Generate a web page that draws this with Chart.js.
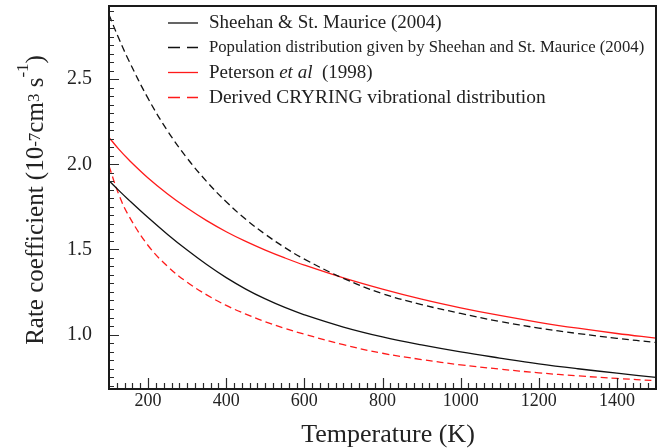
<!DOCTYPE html>
<html>
<head>
<meta charset="utf-8">
<script src="https://cdn.jsdelivr.net/npm/chart.js@4.4.1/dist/chart.umd.min.js"></script>
<style>
  html, body { margin: 0; padding: 0; background: #ffffff; }
  #wrap { width: 663px; height: 448px; position: relative; }
</style>
</head>
<body>
<div id="wrap"><canvas id="chart" width="663" height="448"></canvas></div>
<script>
// Temperatures (K) at which the rate coefficients are tabulated
const temperatures = [100, 125, 150, 200, 250, 300, 350, 400, 450, 500, 550, 600, 700, 800, 900, 1000, 1100, 1200, 1300, 1400, 1500];

// Rate coefficients in units of 1e-7 cm^3 s^-1
const sheehanRate = [1.904, 1.847, 1.792, 1.687, 1.588, 1.496, 1.411, 1.334, 1.267, 1.209, 1.159, 1.116, 1.044, 0.986, 0.939, 0.898, 0.862, 0.828, 0.799, 0.773, 0.748];
const sheehanPopulationRate = [2.878, 2.740, 2.613, 2.387, 2.196, 2.036, 1.899, 1.780, 1.677, 1.589, 1.511, 1.443, 1.330, 1.240, 1.176, 1.124, 1.077, 1.038, 1.006, 0.978, 0.953];
const petersonRate = [2.158, 2.089, 2.028, 1.920, 1.826, 1.743, 1.669, 1.604, 1.547, 1.496, 1.450, 1.408, 1.333, 1.267, 1.208, 1.157, 1.112, 1.072, 1.037, 1.006, 0.979];
const cryringRate = [1.990, 1.823, 1.700, 1.523, 1.400, 1.307, 1.233, 1.171, 1.120, 1.075, 1.036, 1.002, 0.940, 0.890, 0.853, 0.822, 0.797, 0.775, 0.757, 0.742, 0.729];

// Labelled axis ticks
const xTickValues = [200, 400, 600, 800, 1000, 1200, 1400];
const yTickValues = [1.0, 1.5, 2.0, 2.5];

const seriesNames = [
  'Sheehan & St. Maurice (2004)',
  'Population distribution given by Sheehan and St. Maurice (2004)',
  'Peterson et al  (1998)',
  'Derived CRYRING vibrational distribution'
];

const xAxisTitle = 'Temperature (K)';
const yAxisTitleParts = [
  { text: 'Rate coefficient (10', sup: false },
  { text: '-7', sup: true, raise: 3 },
  { text: 'cm', sup: false },
  { text: '3', sup: true, raise: 4 },
  { text: ' s', sup: false },
  { text: '-1', sup: true, raise: 15 },
  { text: ')', sup: false }
];

const SERIF = '"Liberation Serif", "DejaVu Serif", serif';
const INK = '#222222';
const RED = '#ff1a1a';

function points(values) {
  return temperatures.map((t, i) => ({ x: t, y: values[i] }));
}

const datasets = [
  { label: seriesNames[0], data: points(sheehanRate), borderColor: '#111111', borderDash: [] },
  { label: seriesNames[1], data: points(sheehanPopulationRate), borderColor: '#111111', borderDash: [7, 4] },
  { label: seriesNames[2], data: points(petersonRate), borderColor: RED, borderDash: [] },
  { label: seriesNames[3], data: points(cryringRate), borderColor: RED, borderDash: [7, 4] }
].map(d => Object.assign(d, {
  borderWidth: 1.3,
  pointRadius: 0,
  fill: false,
  tension: 0.4
}));

// Frame, inward tick marks, legend and axis titles
const decorations = {
  id: 'decorations',
  afterDraw(chart) {
    const ctx = chart.ctx;
    const area = chart.chartArea;
    const xs = chart.scales.x;
    const ys = chart.scales.y;
    ctx.save();

    // tick marks pointing into the plot
    ctx.strokeStyle = '#2a2a2a';
    ctx.lineWidth = 1.2;
    ctx.setLineDash([]);
    ctx.beginPath();
    for (let v = xs.min + 20; v < xs.max; v += 20) {
      const px = Math.round(xs.getPixelForValue(v)) + 0.5;
      const major = xTickValues.includes(v);
      ctx.moveTo(px, area.bottom);
      ctx.lineTo(px, area.bottom - (major ? 11 : 6));
    }
    const kMin = Math.ceil(ys.min / 0.05 - 1e-6);
    const kMax = Math.floor(ys.max / 0.05 + 1e-6);
    for (let k = kMin; k <= kMax; k++) {
      const v = k * 0.05;
      const py = Math.round(ys.getPixelForValue(v)) + 0.5;
      const major = k % 10 === 0;
      ctx.moveTo(area.left, py);
      ctx.lineTo(area.left + (major ? 10 : 5), py);
    }
    ctx.stroke();

    // frame
    ctx.lineWidth = 2;
    ctx.strokeStyle = '#1a1a1a';
    ctx.strokeRect(area.left, area.top, area.right - area.left, area.bottom - area.top);

    // legend
    const rowY = [22.5, 47, 72, 97];
    const rowSize = [19, 16.7, 19, 19.4];
    chart.data.datasets.forEach((ds, i) => {
      const y = rowY[i];
      ctx.strokeStyle = ds.borderColor;
      ctx.lineWidth = 1.3;
      ctx.setLineDash(ds.borderDash.length ? [12, 7] : []);
      ctx.beginPath();
      ctx.moveTo(168, y + 0.5);
      ctx.lineTo(198, y + 0.5);
      ctx.stroke();
      ctx.setLineDash([]);

      ctx.fillStyle = INK;
      ctx.textBaseline = 'middle';
      ctx.textAlign = 'left';
      let x = 209;
      const parts = ds.label.split(/(et al)/);
      parts.forEach(p => {
        if (!p) return;
        ctx.font = (p === 'et al' ? 'italic ' : '') + rowSize[i] + 'px ' + SERIF;
        ctx.fillText(p, x, y + 1);
        x += ctx.measureText(p).width;
      });
    });

    // x axis title
    ctx.fillStyle = INK;
    ctx.font = '26px ' + SERIF;
    ctx.textAlign = 'center';
    ctx.textBaseline = 'alphabetic';
    ctx.fillText(xAxisTitle, 388, 442);

    // y axis title, rotated, with raised exponents
    ctx.save();
    ctx.translate(43, 200);
    ctx.rotate(-Math.PI / 2);
    const mainFont = '25px ' + SERIF;
    const supFont = '17px ' + SERIF;
    let total = 0;
    yAxisTitleParts.forEach(p => {
      ctx.font = p.sup ? supFont : mainFont;
      total += ctx.measureText(p.text).width;
    });
    let cx = -total / 2;
    ctx.textAlign = 'left';
    yAxisTitleParts.forEach(p => {
      ctx.font = p.sup ? supFont : mainFont;
      ctx.fillText(p.text, cx, p.sup ? -p.raise : 0);
      cx += ctx.measureText(p.text).width;
    });
    ctx.restore();

    ctx.restore();
  }
};

function noEdgePadding(scale) {
  scale.paddingTop = 0;
  scale.paddingBottom = 0;
  scale.paddingLeft = 0;
  scale.paddingRight = 0;
}

new Chart(document.getElementById('chart'), {
  type: 'line',
  data: { datasets },
  options: {
    responsive: false,
    animation: false,
    devicePixelRatio: 1,
    layout: { padding: { top: 6, right: 7, left: 0, bottom: 0 } },
    plugins: { legend: { display: false }, tooltip: { enabled: false }, title: { display: false } },
    scales: {
      x: {
        type: 'linear',
        min: 100,
        max: 1500,
        grid: { display: false },
        border: { display: false },
        afterBuildTicks(scale) { scale.ticks = xTickValues.map(v => ({ value: v })); },
        afterFit(scale) { scale.height = 59; noEdgePadding(scale); },
        ticks: {
          autoSkip: false,
          maxRotation: 0,
          padding: -7,
          color: INK,
          font: { family: SERIF, size: 18 },
          callback: v => String(v)
        }
      },
      y: {
        type: 'linear',
        min: 0.68,
        max: 2.93,
        grid: { display: false },
        border: { display: false },
        afterBuildTicks(scale) { scale.ticks = yTickValues.map(v => ({ value: v })); },
        afterFit(scale) { scale.width = 109; noEdgePadding(scale); },
        ticks: {
          autoSkip: false,
          padding: 9,
          color: INK,
          font: { family: SERIF, size: 20 },
          callback: v => Number(v).toFixed(1)
        }
      }
    }
  },
  plugins: [decorations]
});
</script>
</body>
</html>
